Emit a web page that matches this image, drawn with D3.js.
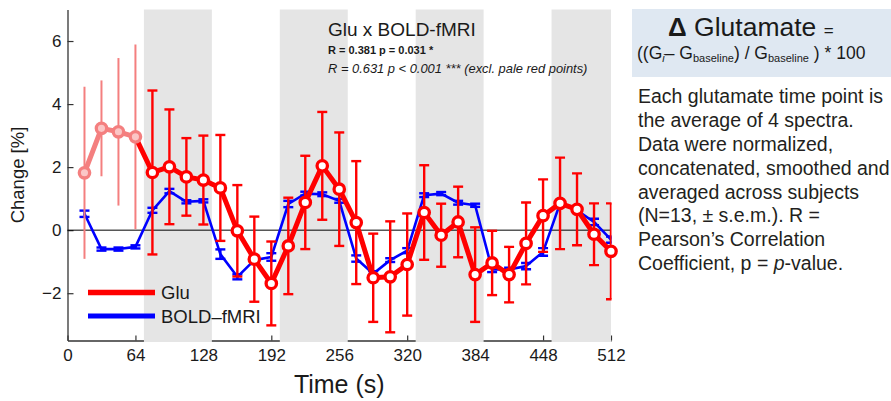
<!DOCTYPE html>
<html><head><meta charset="utf-8">
<script src="https://cdn.jsdelivr.net/npm/d3@7"></script>
<style>body{margin:0;background:#fff}svg{display:block;font-family:"Liberation Sans",Arial,Helvetica,sans-serif}</style>
</head><body><svg id="c" width="891" height="401"></svg>
<script>
// ---- data ----
const times   = [16,32,48,64,80,96,112,128,144,160,176,192,208,224,240,256,272,288,304,320,336,352,368,384,400,416,432,448,464,480,496,512];
const glu     = [1.82,3.23,3.12,2.96,1.83,2.01,1.69,1.59,1.34,-0.02,-0.92,-1.69,-0.50,0.88,2.04,1.30,0.24,-1.51,-1.48,-1.09,0.56,-0.16,0.26,-1.41,-1.04,-1.41,-0.42,0.46,0.85,0.66,-0.13,-0.67];
const gluErr  = [2.73,1.52,2.34,2.93,2.60,1.82,1.23,1.41,1.68,1.45,1.35,1.33,1.53,1.48,1.71,1.80,1.95,1.40,1.76,1.62,1.50,1.00,1.12,1.50,1.02,0.88,1.30,1.15,1.45,1.14,0.98,1.52];
const bold    = [0.52,-0.60,-0.60,-0.53,0.63,1.24,0.90,0.93,-0.76,-1.48,-0.95,-0.85,0.83,1.16,1.14,0.93,-0.90,-1.38,-0.95,-0.65,1.11,1.16,0.87,0.79,-1.25,-1.25,-1.14,-0.69,0.85,0.63,0.26,-0.30];
const boldErr = [0.10,0.05,0.05,0.05,0.08,0.07,0.05,0.05,0.15,0.08,0.08,0.12,0.10,0.06,0.06,0.06,0.10,0.08,0.06,0.08,0.06,0.05,0.06,0.05,0.08,0.06,0.10,0.12,0.06,0.06,0.10,0.10];
const paleN   = 4; // first Glu points shown pale (excluded)
const blocks  = [[72,136],[200,264],[328,392],[456,520]];
const xTicks  = [0,64,128,192,256,320,384,448,512];
const yTicks  = [-2,0,2,4,6];
const xDomain = [0,512];
const yDomain = [-3.5,7];
const seriesNames = ["Glu","BOLD\u2013fMRI"];
const paraLines = ["Each glutamate time point is","the average of 4 spectra.","Data were normalized,","concatenated, smoothed and","averaged across subjects","(N=13, \u00b1 s.e.m.). R =","Pearson\u2019s Correlation"];

// ---- chart ----
const svg = d3.select('#c');
const x = d3.scaleLinear().domain(xDomain).range([67.5,611]);
const y = d3.scaleLinear().domain(yDomain).range([340.5,9.5]);
const RED='#ff0000', BLUE='#0000ff', PALE='#f47f7f', TXT='#1a1a1a';

svg.append('defs').append('clipPath').attr('id','clip')
  .append('rect').attr('x',0).attr('y',0).attr('width',x(512)+0.5).attr('height',401);

// axes
const gx = svg.append('g').attr('transform',`translate(0,${y(yDomain[0])})`)
  .call(d3.axisBottom(x).tickValues(xTicks).tickSizeInner(-5).tickSizeOuter(0).tickPadding(8));
const gy = svg.append('g').attr('transform',`translate(${x(0)},0)`)
  .call(d3.axisLeft(y).tickValues(yTicks).tickSizeInner(-6).tickSizeOuter(0).tickPadding(6));
[gx,gy].forEach(g=>{
  g.attr('font-family',null).attr('font-size',null);
  g.select('.domain').attr('stroke','#333').attr('stroke-width',1.3);
  g.selectAll('.tick line').attr('stroke','#333').attr('stroke-width',1.2);
  g.selectAll('.tick text').attr('font-size',17).attr('fill',TXT);
});

// grey stimulation blocks (drawn over the x axis line, like the original)
svg.append('g').selectAll('rect').data(blocks).join('rect')
  .attr('x',d=>x(d[0])).attr('width',d=>x(Math.min(d[1],xDomain[1]))-x(d[0]))
  .attr('y',y(yDomain[1])).attr('height',y(yDomain[0])-y(yDomain[1])+1.5)
  .attr('fill','#e5e5e5');

// zero line
svg.append('line').attr('x1',x(0)).attr('x2',x(512)).attr('y1',y(0)).attr('y2',y(0))
  .attr('stroke','#000').attr('stroke-width',1);

const line = d3.line().x(d=>x(d.t)).y(d=>y(d.v));
const boldData = times.map((t,i)=>({t,v:bold[i],e:boldErr[i]}));
const gluData  = times.map((t,i)=>({t,v:glu[i],e:gluErr[i],pale:i<paleN}));

// BOLD series
const gb = svg.append('g').attr('clip-path','url(#clip)');
gb.append('path').datum(boldData).attr('d',line).attr('fill','none').attr('stroke',BLUE).attr('stroke-width',2.6).attr('stroke-linejoin','round');
const be = gb.selectAll('g.eb').data(boldData).join('g').attr('stroke',BLUE).attr('stroke-width',2.4);
be.append('line').attr('x1',d=>x(d.t)).attr('x2',d=>x(d.t)).attr('y1',d=>y(d.v-d.e)).attr('y2',d=>y(d.v+d.e));
be.append('line').attr('x1',d=>x(d.t)-5).attr('x2',d=>x(d.t)+5).attr('y1',d=>y(d.v-d.e)).attr('y2',d=>y(d.v-d.e));
be.append('line').attr('x1',d=>x(d.t)-5).attr('x2',d=>x(d.t)+5).attr('y1',d=>y(d.v+d.e)).attr('y2',d=>y(d.v+d.e));

// Glu series
const gg = svg.append('g');
const ge = gg.append('g').attr('clip-path','url(#clip)');
ge.selectAll('line.v').data(gluData).join('line')
  .attr('x1',d=>x(d.t)).attr('x2',d=>x(d.t)).attr('y1',d=>y(d.v-d.e)).attr('y2',d=>y(d.v+d.e))
  .attr('stroke',d=>d.pale?PALE:RED).attr('stroke-width',d=>d.pale?2:2.4);
const caps = gluData.filter(d=>!d.pale);
ge.selectAll('line.c1').data(caps).join('line').attr('class','c1')
  .attr('x1',d=>x(d.t)-5).attr('x2',d=>x(d.t)+5).attr('y1',d=>y(d.v-d.e)).attr('y2',d=>y(d.v-d.e))
  .attr('stroke',RED).attr('stroke-width',2.4);
ge.selectAll('line.c2').data(caps).join('line').attr('class','c2')
  .attr('x1',d=>x(d.t)-5).attr('x2',d=>x(d.t)+5).attr('y1',d=>y(d.v+d.e)).attr('y2',d=>y(d.v+d.e))
  .attr('stroke',RED).attr('stroke-width',2.4);
gg.append('path').datum(gluData.slice(0,paleN)).attr('d',line).attr('fill','none').attr('stroke',PALE).attr('stroke-width',5).attr('stroke-linejoin','round');
gg.append('path').datum(gluData.slice(paleN-1)).attr('d',line).attr('fill','none').attr('stroke',RED).attr('stroke-width',5).attr('stroke-linejoin','round');
gg.selectAll('circle').data(gluData).join('circle')
  .attr('cx',d=>x(d.t)).attr('cy',d=>y(d.v)).attr('r',5.2)
  .attr('fill',d=>d.pale?'#fbc6c6':'#fff').attr('stroke',d=>d.pale?PALE:RED).attr('stroke-width',3.3);

// legend
const lg = svg.append('g');
[[RED,5.5],[BLUE,5]].forEach((c,i)=>{
  const yy = 292.5 + i*23.5;
  lg.append('line').attr('x1',88).attr('x2',155).attr('y1',yy).attr('y2',yy).attr('stroke',c[0]).attr('stroke-width',c[1]);
  lg.append('text').attr('x',161).attr('y',yy+6.5).attr('font-size',18.5).attr('fill',TXT).text(seriesNames[i]);
});

// axis titles
svg.append('text').attr('transform',`translate(24,${(y(yDomain[0])+y(yDomain[1]))/2}) rotate(-90)`)
  .attr('text-anchor','middle').attr('font-size',18.5).attr('fill',TXT).text('Change [%]');
svg.append('text').attr('x',(x(0)+x(512))/2).attr('y',393).attr('text-anchor','middle')
  .attr('font-size',25).attr('fill',TXT).text('Time (s)');

// correlation annotation
svg.append('text').attr('x',328).attr('y',35.5).attr('font-size',19).attr('fill',TXT).text('Glu x BOLD-fMRI');
svg.append('text').attr('x',328).attr('y',54).attr('font-size',11).attr('font-weight','bold').attr('fill',TXT).text('R = 0.381 p = 0.031 *');
svg.append('text').attr('x',328).attr('y',73).attr('font-size',12.9).attr('font-style','italic').attr('fill',TXT).text('R = 0.631 p < 0.001 *** (excl. pale red points)');

// right panel
svg.append('rect').attr('x',632).attr('y',9).attr('width',259).attr('height',68).attr('fill','#dfe8f2');
const t1 = svg.append('text').attr('x',668).attr('y',36).attr('fill',TXT);
t1.append('tspan').attr('font-size',26).attr('font-weight','bold').text('\u0394');
t1.append('tspan').attr('font-size',26.5).text(' Glutamate ');
t1.append('tspan').attr('font-size',17).text('=');
const t2 = svg.append('text').attr('x',637).attr('y',58.5).attr('fill',TXT).attr('font-size',17.5);
t2.append('tspan').text('((G');
t2.append('tspan').attr('font-size',11).attr('font-style','italic').attr('dy',3).text('i');
t2.append('tspan').attr('dy',-3).text('\u2013 G');
t2.append('tspan').attr('font-size',11).attr('dy',3).text('baseline');
t2.append('tspan').attr('dy',-3).text(') / G');
t2.append('tspan').attr('font-size',11).attr('dy',3).text('baseline');
t2.append('tspan').attr('dy',-3).text(' ) * 100');

const para = svg.append('g').attr('font-size',19.5).attr('fill','#231f20');
para.selectAll('text').data(paraLines).join('text').attr('x',638).attr('y',(d,i)=>103.4+i*23.8).text(d=>d);
const last = para.append('text').attr('x',638).attr('y',103.4+7*23.8);
last.append('tspan').text('Coefficient, p = ');
last.append('tspan').attr('font-style','italic').text('p');
last.append('tspan').text('-value.');
</script></body></html>
